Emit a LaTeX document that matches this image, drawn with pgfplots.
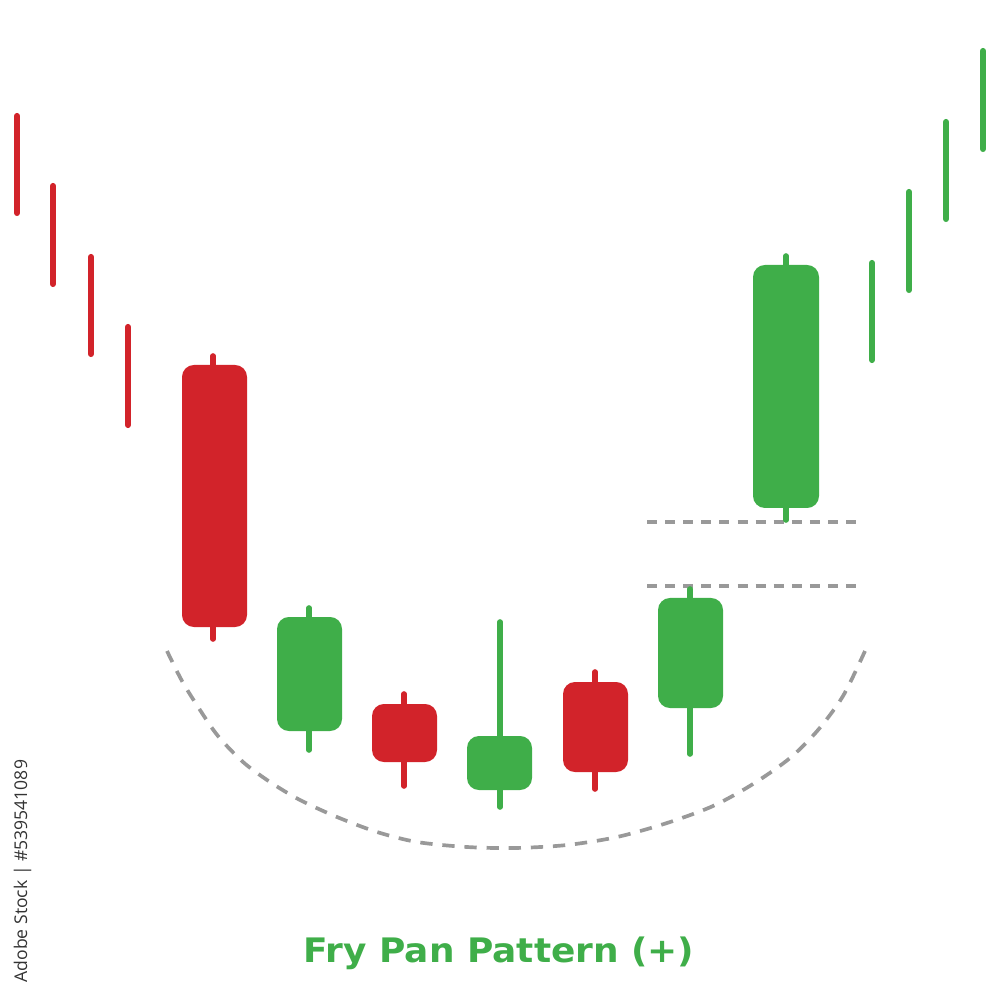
\documentclass[border=0pt]{standalone}
\usepackage{pgfplots}
\pgfplotsset{compat=1.18}
\usepackage{fontspec}
\newfontfamily\titlefont{DejaVu Sans}
\newfontfamily\wmfont{Open Sans}
\definecolor{cred}{HTML}{D2232A}
\definecolor{cgreen}{HTML}{3FAE49}
\definecolor{cgray}{HTML}{999999}
\begin{document}
\begin{tikzpicture}
\begin{axis}[
  width=10cm, height=10cm, scale only axis,
  xmin=0, xmax=1000, ymin=0, ymax=1000, y dir=reverse,
  hide axis, clip=false,
]
% thin trend lines
\pgfplotsset{thin/.style={line width=1.75pt, line cap=round, mark=none}}
\addplot[thin, cred] coordinates {(17,116) (17,213)};
\addplot[thin, cred] coordinates {(53,186) (53,284)};
\addplot[thin, cred] coordinates {(91,257) (91,354)};
\addplot[thin, cred] coordinates {(128,327) (128,425)};
\addplot[thin, cgreen] coordinates {(872,263) (872,360)};
\addplot[thin, cgreen] coordinates {(909,192) (909,290)};
\addplot[thin, cgreen] coordinates {(946,122) (946,219)};
\addplot[thin, cgreen] coordinates {(983,51) (983,149)};
% guide lines
\addplot[cgray, line width=0.9pt, dash pattern=on 2.85pt off 2.3pt, mark=none] coordinates {(647,522) (857,522)};
\addplot[cgray, line width=0.9pt, dash pattern=on 2.85pt off 2.3pt, mark=none] coordinates {(647,586) (857,586)};
\addplot[cgray, line width=1.05pt, dash pattern=on 3.5pt off 2.8pt, smooth, mark=none] coordinates {
 (167,651) (182,681) (200,710) (218,736) (243,762) (270,782) (300,800) (337,817)
 (377,832) (417,842) (467,847) (515,848) (567,845) (617,837) (667,823) (713,806)
 (753,784) (790,758) (818,730) (843,696) (865,651)};
% wicks
\pgfplotsset{wick/.style={line width=1.6pt, line cap=round, mark=none}}
\addplot[wick, cred]   coordinates {(213,356) (213,639)};
\addplot[wick, cgreen] coordinates {(309,608) (309,750)};
\addplot[wick, cred]   coordinates {(404,694) (404,786)};
\addplot[wick, cgreen] coordinates {(500,622) (500,807)};
\addplot[wick, cred]   coordinates {(595,672) (595,789)};
\addplot[wick, cgreen] coordinates {(690,589) (690,754)};
\addplot[wick, cgreen] coordinates {(786,256) (786,520)};
% bodies
\pgfplotsset{body/.style={draw=none, rounded corners=3.4pt, mark=none}}
\addplot[body, fill=cred]   coordinates {(182,365) (247,365) (247,627) (182,627)} --cycle;
\addplot[body, fill=cgreen] coordinates {(277,617) (342,617) (342,731) (277,731)} --cycle;
\addplot[body, fill=cred]   coordinates {(372,704) (437,704) (437,762) (372,762)} --cycle;
\addplot[body, fill=cgreen] coordinates {(467,736) (532,736) (532,790) (467,790)} --cycle;
\addplot[body, fill=cred]   coordinates {(563,682) (628,682) (628,772) (563,772)} --cycle;
\addplot[body, fill=cgreen] coordinates {(658,598) (723,598) (723,708) (658,708)} --cycle;
\addplot[body, fill=cgreen] coordinates {(753,265) (819,265) (819,508) (753,508)} --cycle;
% texts
\node[text=cgreen, font=\titlefont\bfseries\fontsize{9.6pt}{11pt}\selectfont, anchor=base, inner sep=0pt, xscale=1.065] at (axis cs:499,962) {Fry Pan Pattern (+)};
\node[text=black!80, font=\wmfont\fontsize{5.0pt}{6pt}\selectfont, rotate=90, anchor=base west, inner sep=0pt] at (axis cs:27,983) {Adobe Stock | \#539541089};
\end{axis}
\pgfresetboundingbox
\path[use as bounding box] (current axis.south west) rectangle (current axis.north east);
\end{tikzpicture}
\end{document}
